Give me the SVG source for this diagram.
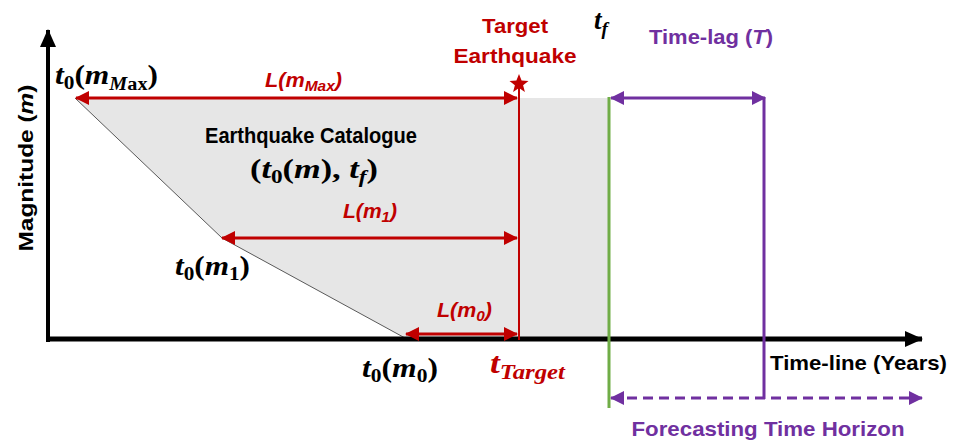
<svg xmlns="http://www.w3.org/2000/svg" width="956" height="441" viewBox="0 0 956 441">
<style>
.lab{font-family:"Liberation Sans",Arial,sans-serif;font-weight:bold}
.math{font-family:"Liberation Serif","DejaVu Serif",serif;font-weight:bold}
.it{font-style:italic}
.red{fill:#c00000}
.pur{fill:#7030a0}
.blk{fill:#000}
</style>
<defs>
<marker id="ar" markerUnits="userSpaceOnUse" viewBox="0 0 14 14" refX="13" refY="7" markerWidth="14" markerHeight="14" orient="auto-start-reverse"><path d="M0,0 L14,7 L0,14 z" fill="#c00000"/></marker>
<marker id="ap" markerUnits="userSpaceOnUse" viewBox="0 0 14 14" refX="13" refY="7" markerWidth="14" markerHeight="14" orient="auto-start-reverse"><path d="M0,0 L14,7 L0,14 z" fill="#7030a0"/></marker>
<marker id="ak" markerUnits="userSpaceOnUse" viewBox="0 0 18 16" refX="17" refY="8" markerWidth="18" markerHeight="16" orient="auto-start-reverse"><path d="M0,0 L18,8 L0,16 z" fill="#000"/></marker>
</defs>

<g id="catalogue">
<path d="M75,98 L222,238 L405,338 L608,338 L608,98 Z" fill="#e6e6e6" stroke="none"/>
<path d="M75,98 L222,238 L405,338" fill="none" stroke="#595959" stroke-width="1"/>
<text class="lab blk" x="311" y="143" font-size="22" text-anchor="middle" textLength="212" lengthAdjust="spacingAndGlyphs">Earthquake Catalogue</text>
<text class="math blk" x="250" y="178" font-size="28" textLength="128" lengthAdjust="spacingAndGlyphs">(<tspan class="it">t</tspan><tspan font-size="19" dy="5">0</tspan><tspan dy="-5">(</tspan><tspan class="it">m</tspan>), <tspan class="it">t</tspan><tspan class="it" font-size="19" dy="5">f</tspan><tspan dy="-5">)</tspan></text>
</g>

<g id="axes">
<line x1="48" y1="342" x2="48" y2="30" stroke="#000" stroke-width="4" marker-end="url(#ak)"/>
<line x1="46" y1="339" x2="922" y2="339" stroke="#000" stroke-width="5" marker-end="url(#ak)"/>
<text class="lab blk" transform="translate(33,168) rotate(-90)" font-size="21" text-anchor="middle" textLength="167" lengthAdjust="spacingAndGlyphs">Magnitude (<tspan font-style="italic">m</tspan>)</text>
<text class="lab blk" x="770" y="370" font-size="21" textLength="177" lengthAdjust="spacingAndGlyphs">Time-line (Years)</text>
</g>

<g id="target">
<line x1="519" y1="86" x2="519" y2="340" stroke="#c00000" stroke-width="2"/>
<path d="M519,74 L521.6,80.6 L528.5,80.9 L523.1,85.2 L524.9,92 L519,88.1 L513.1,92 L514.9,85.2 L509.5,80.9 L516.4,80.6 Z" fill="#c00000"/>
<text class="lab red" x="515" y="33" font-size="21" text-anchor="middle" textLength="66" lengthAdjust="spacingAndGlyphs">Target</text>
<text class="lab red" x="515" y="63" font-size="21" text-anchor="middle" textLength="123" lengthAdjust="spacingAndGlyphs">Earthquake</text>
<text class="math red" x="490" y="373" font-size="30" textLength="75" lengthAdjust="spacingAndGlyphs"><tspan class="it">t</tspan><tspan class="it" font-size="21" dy="6">Target</tspan></text>
</g>

<g id="tf">
<line x1="609" y1="97" x2="609" y2="408" stroke="#70ad47" stroke-width="3"/>
<text class="math blk it" x="594" y="29" font-size="27">t<tspan font-size="19" dy="6">f</tspan></text>
</g>

<g id="timelag">
<line x1="764" y1="97" x2="764" y2="399" stroke="#7030a0" stroke-width="3"/>
<text class="lab pur" x="649" y="44" font-size="21" textLength="124" lengthAdjust="spacingAndGlyphs">Time-lag (<tspan font-style="italic">T</tspan>)</text>
</g>

<g id="horizon">
<text class="lab pur" x="768" y="436" font-size="21" text-anchor="middle" textLength="273" lengthAdjust="spacingAndGlyphs">Forecasting Time Horizon</text>
</g>

<g id="labels">
<text class="math blk" x="55" y="84" font-size="28" textLength="103" lengthAdjust="spacingAndGlyphs"><tspan class="it">t</tspan><tspan font-size="19" dy="5">0</tspan><tspan dy="-5">(</tspan><tspan class="it">m</tspan><tspan class="it" font-size="18" dy="6">M</tspan><tspan font-size="18">ax</tspan><tspan dy="-6">)</tspan></text>
<text class="math blk" x="175" y="275" font-size="28" textLength="75" lengthAdjust="spacingAndGlyphs"><tspan class="it">t</tspan><tspan font-size="19" dy="5">0</tspan><tspan dy="-5">(</tspan><tspan class="it">m</tspan><tspan font-size="19" dy="5">1</tspan><tspan dy="-5">)</tspan></text>
<text class="math blk" x="362" y="377" font-size="28" textLength="76" lengthAdjust="spacingAndGlyphs"><tspan class="it">t</tspan><tspan font-size="19" dy="5">0</tspan><tspan dy="-5">(</tspan><tspan class="it">m</tspan><tspan font-size="19" dy="5">0</tspan><tspan dy="-5">)</tspan></text>
<text class="lab red it" x="265" y="87" font-size="21" textLength="77" lengthAdjust="spacingAndGlyphs">L(m<tspan font-size="15" dy="4">Max</tspan><tspan dy="-4">)</tspan></text>
<text class="lab red it" x="343" y="218" font-size="21" textLength="54" lengthAdjust="spacingAndGlyphs">L(m<tspan font-size="15" dy="4">1</tspan><tspan dy="-4">)</tspan></text>
<text class="lab red it" x="437" y="317" font-size="21" textLength="55" lengthAdjust="spacingAndGlyphs">L(m<tspan font-size="15" dy="4">0</tspan><tspan dy="-4">)</tspan></text>
</g>

<g id="connectors">
<line x1="76" y1="98" x2="517" y2="98" stroke="#c00000" stroke-width="3" marker-start="url(#ar)" marker-end="url(#ar)"/>
<line x1="222" y1="238" x2="517" y2="238" stroke="#c00000" stroke-width="3" marker-start="url(#ar)" marker-end="url(#ar)"/>
<line x1="406" y1="334" x2="517" y2="334" stroke="#c00000" stroke-width="3" marker-start="url(#ar)" marker-end="url(#ar)"/>
<line x1="611" y1="98" x2="765" y2="98" stroke="#7030a0" stroke-width="3" marker-start="url(#ap)" marker-end="url(#ap)"/>
<line x1="611" y1="398" x2="922" y2="398" stroke="#7030a0" stroke-width="3" stroke-dasharray="10,6" marker-start="url(#ap)" marker-end="url(#ap)"/>
</g>
</svg>
